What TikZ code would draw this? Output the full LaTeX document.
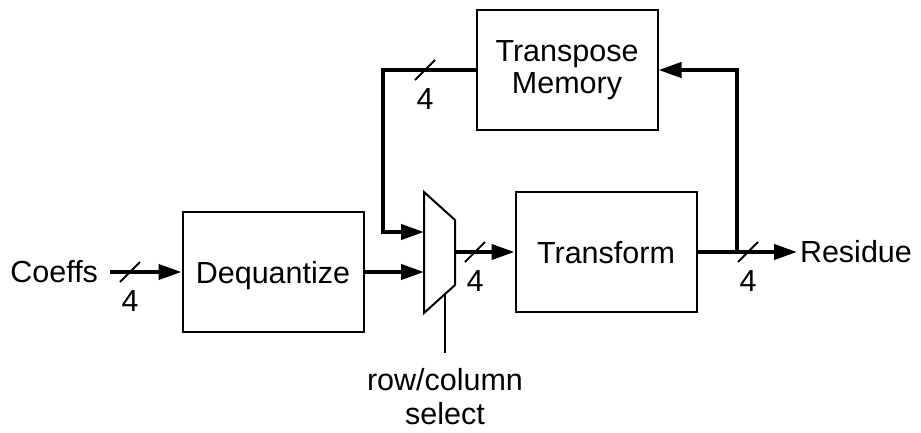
\documentclass[tikz,border=0pt]{standalone}
\usepackage{fontspec}
\setmainfont{Liberation Sans}
\usetikzlibrary{arrows.meta}

\begin{document}
\begin{tikzpicture}[x=1pt, y=-1pt, >={Triangle[length=23pt, width=15pt]},
  blk/.style={draw, line width=2pt, minimum width=181pt, minimum height=120pt,
    align=center, font=\fontsize{30.5}{32}\selectfont},
  lbl/.style={font=\fontsize{30.5}{34}\selectfont, inner sep=0pt},
  bus/.style={line width=4pt},
  wire/.style={line width=2pt}]
  \useasboundingbox (0,0) rectangle (921,432);

  % blocks
  \node[blk, text depth=0pt] (deq) at (273,272) {Dequantize};
  \node[blk, text depth=0pt] (xfm) at (606,252) {Transform};
  \node[blk] (tmem) at (567,70) {Transpose\\Memory};

  % multiplexer
  \coordinate (mtl) at (424,192);
  \coordinate (mtr) at (455,220);
  \coordinate (mbr) at (455,285);
  \coordinate (mbl) at (424,313);
  \draw[wire] (mtl) -- (mtr) -- (mbr) -- (mbl) -- cycle;
  \coordinate (min1) at (424,232);
  \coordinate (min2) at (424,272);
  \coordinate (mout) at (455,252);
  \coordinate (msel) at (445,295);

  % labels
  \node[lbl, anchor=east, outer xsep=12pt] (coeffs) at (110,272) {Coeffs};
  \node[lbl, anchor=west, outer xsep=3pt] (res) at (797,252) {Residue};
  \coordinate (selend) at (445,353);
  \node[lbl, align=center, anchor=north] (sel) at (445,368) {row/column\\select};

  % connections
  \draw[bus,->] (coeffs.east) -- (deq.west);
  \draw[bus,->] (deq.east) -- (min2);
  \draw[bus,->] (mout) -- (xfm.west);
  \draw[bus,->] (xfm.east) -- (res.west);
  \coordinate (br) at (737,252);
  \draw[bus,->] (br) |- (tmem.east);
  \coordinate (fb) at (383,232);
  \draw[bus,->] (tmem.west) -| (fb) -- (min1);
  \draw[wire] (msel) -- (selend);

  % bus width marks
  \coordinate (w1) at (130,272);
  \coordinate (w2) at (425,70);
  \coordinate (w3) at (475,252);
  \coordinate (w4) at (748,252);
  \foreach \w in {w1,w2,w3,w4} {
    \draw[wire] (\w) +(-10,10) -- +(10,-10);
    \path (\w) ++(0,29) node[lbl] (\w-n) {4};
  }
\end{tikzpicture}
\end{document}
